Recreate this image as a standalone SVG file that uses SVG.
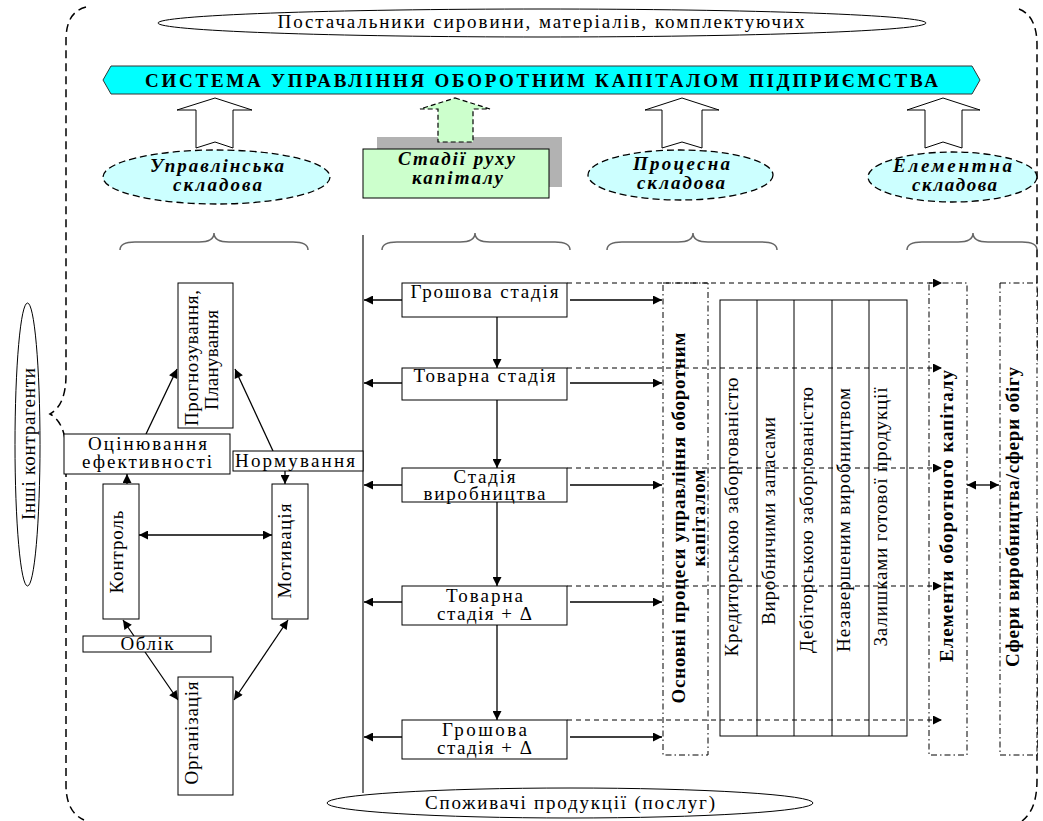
<svg xmlns="http://www.w3.org/2000/svg" width="1043" height="821" viewBox="0 0 1043 821" font-family="'Liberation Serif', 'Times New Roman', serif">
<defs>
<style>
.t{font-family:"Liberation Serif","Times New Roman",serif;font-size:19px;fill:#000}
.m{text-anchor:middle}
.b{font-weight:bold}
.bi{font-weight:bold;font-style:italic}
.box{fill:#fff;stroke:#000;stroke-width:1}
.ln{stroke:#000;stroke-width:1.3;fill:none}
.dsh{stroke:#000;stroke-width:1;stroke-dasharray:5 4;fill:none}
.dd{fill:#fff;stroke:#000;stroke-width:1;stroke-dasharray:6 3 1.5 3}
.brace{fill:none;stroke:#666;stroke-width:1.5}
.bigarrow{fill:#fff;stroke:#000;stroke-width:1}
.ell{fill:#CCFFFF;stroke:#000;stroke-width:1.3;stroke-dasharray:7 4}
</style>
<marker id="ah" viewBox="0 0 10 10" refX="10" refY="5" markerWidth="11" markerHeight="9" markerUnits="userSpaceOnUse" orient="auto-start-reverse"><path d="M0,0 L10,5 L0,10 Z" fill="#000"/></marker>
</defs>

<g id="boundary" fill="none" stroke="#000" stroke-width="1.5" stroke-dasharray="8 5">
<path d="M86 7 Q66 12 66 40 L66 375 Q66 405 50 414 Q66 423 66 453 L66 785 Q66 812 84 820"/>
<path d="M1019 9 Q1037 16 1037 45 L1037 350 C1037 395 1022 410 1021 440 C1022 470 1037 485 1037 530 L1037 780 Q1037 810 1022 821"/>
</g>

<g id="suppliers">
<ellipse cx="542" cy="23" rx="384" ry="14" fill="#fff" stroke="#000" stroke-width="1"/>
<text class="t m" x="541" y="28" font-size="18" textLength="527" lengthAdjust="spacing">Постачальники сировини, матеріалів, комплектуючих</text>
</g>

<g id="banner">
<polygon points="103,80 111,66 972,66 980,80 972,94 111,94" fill="#00FFFF" stroke="#333" stroke-width="1"/>
<text class="t m b" x="541.5" y="87" font-size="21" textLength="793" lengthAdjust="spacing">СИСТЕМА УПРАВЛІННЯ ОБОРОТНИМ КАПІТАЛОМ ПІДПРИЄМСТВА</text>
</g>

<g id="bigarrows">
<polygon class="bigarrow" points="215,98 252,110 233,110 233,148 215,142 196,148 196,110 177,110"/>
<polygon class="bigarrow" points="682,98 719,110 702,110 702,148 682,142 662,148 662,110 645,110"/>
<polygon class="bigarrow" points="943,98 980,110 962,110 962,148 943,142 925,148 925,110 907,110"/>
</g>

<g id="stages-header">
<rect x="377" y="137" width="185" height="50" fill="#B2B2B2"/>
<polygon points="455,98 490,109 473,109 473,142 438,142 438,109 420,109" fill="#CCFFCC" stroke="#000" stroke-width="1.2" stroke-dasharray="5 3"/>
<rect x="363" y="149" width="186" height="49" fill="#CCFFCC" stroke="#000" stroke-width="1"/>
<text class="t m bi" x="456.5" y="165" font-size="18" textLength="117" lengthAdjust="spacing">Стадії руху</text>
<text class="t m bi" x="457.5" y="184" font-size="18" textLength="91" lengthAdjust="spacing">капіталу</text>
</g>

<g id="mgmt-component">
<ellipse class="ell" cx="216.5" cy="177" rx="113.5" ry="27"/>
<text class="t m bi" x="217" y="172" font-size="18" textLength="134" lengthAdjust="spacing">Управлінська</text>
<text class="t m bi" x="217.5" y="191" font-size="18" textLength="89" lengthAdjust="spacing">складова</text>
</g>

<g id="process-component">
<ellipse class="ell" cx="680.5" cy="175" rx="92.5" ry="25"/>
<text class="t m bi" x="681.5" y="170" font-size="18" textLength="97" lengthAdjust="spacing">Процесна</text>
<text class="t m bi" x="681" y="189" font-size="18" textLength="88" lengthAdjust="spacing">складова</text>
</g>

<g id="element-component">
<ellipse class="ell" cx="952.5" cy="177" rx="84.5" ry="25"/>
<text class="t m bi" x="952.5" y="172" font-size="18" textLength="119" lengthAdjust="spacing">Елементна</text>
<text class="t m bi" x="954.5" y="191" font-size="18" textLength="85" lengthAdjust="spacing">складова</text>
</g>

<g id="braces">
<path class="brace" d="M120 250 Q120 242 135 242 L199 242 Q214 242 214 233 Q214 242 229 242 L293 242 Q308 242 308 250"/>
<path class="brace" d="M382 250 Q382 242 397 242 L460 242 Q475 242 475 233 Q475 242 490 242 L555 242 Q570 242 570 250"/>
<path class="brace" d="M607 250 Q607 242 622 242 L678 242 Q693 242 693 233 Q693 242 708 242 L762 242 Q777 242 777 250"/>
<path class="brace" d="M907 250 Q907 242 922 242 L958 242 Q973 242 973 233 Q973 242 988 242 L1022 242 Q1037 242 1037 250"/>
</g>

<g id="others">
<ellipse cx="27.5" cy="444.5" rx="12.5" ry="141.5" fill="#fff" stroke="#000" stroke-width="1"/>
<text class="t m" transform="translate(35,444) rotate(-90)" textLength="152" lengthAdjust="spacing">Інші контрагенти</text>
</g>

<g id="consumers">
<ellipse cx="570" cy="803" rx="243" ry="15" fill="#fff" stroke="#000" stroke-width="1"/>
<text class="t m" x="570" y="809" textLength="290" lengthAdjust="spacing">Споживачі продукції (послуг)</text>
</g>

<g id="connectors">
<line x1="363" y1="235" x2="363" y2="793" stroke="#444" stroke-width="1.5"/>
<line class="ln" x1="146" y1="434" x2="177" y2="369" marker-end="url(#ah)"/>
<line class="ln" x1="273" y1="451" x2="235" y2="369" marker-end="url(#ah)"/>
<line class="ln" x1="127" y1="484" x2="127" y2="474" marker-end="url(#ah)"/>
<line class="ln" x1="285" y1="471" x2="285" y2="484" marker-end="url(#ah)"/>
<line class="ln" x1="139" y1="535" x2="272" y2="535" marker-start="url(#ah)" marker-end="url(#ah)"/>
<line class="ln" x1="123" y1="620" x2="134" y2="636" marker-start="url(#ah)"/>
<line class="ln" x1="145" y1="652" x2="178" y2="700" marker-end="url(#ah)"/>
<line class="ln" x1="288" y1="620" x2="234" y2="700" marker-start="url(#ah)" marker-end="url(#ah)"/>
<line class="ln" x1="497" y1="317" x2="497" y2="368" marker-end="url(#ah)"/>
<line class="ln" x1="497" y1="400" x2="497" y2="468" marker-end="url(#ah)"/>
<line class="ln" x1="497" y1="502" x2="497" y2="586" marker-end="url(#ah)"/>
<line class="ln" x1="497" y1="625" x2="497" y2="720" marker-end="url(#ah)"/>
<line class="ln" x1="402" y1="300" x2="364" y2="300" marker-end="url(#ah)"/>
<line class="ln" x1="402" y1="383" x2="364" y2="383" marker-end="url(#ah)"/>
<line class="ln" x1="402" y1="485" x2="364" y2="485" marker-end="url(#ah)"/>
<line class="ln" x1="402" y1="602" x2="364" y2="602" marker-end="url(#ah)"/>
<line class="ln" x1="402" y1="737" x2="364" y2="737" marker-end="url(#ah)"/>
<line class="ln" x1="570" y1="300" x2="662" y2="300" marker-end="url(#ah)"/>
<line class="ln" x1="570" y1="383" x2="662" y2="383" marker-end="url(#ah)"/>
<line class="ln" x1="570" y1="485" x2="662" y2="485" marker-end="url(#ah)"/>
<line class="ln" x1="570" y1="602" x2="662" y2="602" marker-end="url(#ah)"/>
<line class="ln" x1="570" y1="737" x2="662" y2="737" marker-end="url(#ah)"/>
<line class="ln" x1="967" y1="485" x2="999" y2="485" marker-start="url(#ah)" marker-end="url(#ah)"/>
</g>

<g id="forecast"><rect class="box" x="178" y="283" width="55" height="145"/>
<text class="t m" transform="translate(198,358) rotate(-90)" textLength="136" lengthAdjust="spacing">Прогнозування,</text>
<text class="t m" transform="translate(218,360) rotate(-90)" textLength="100" lengthAdjust="spacing">Планування</text></g>
<g id="evaluation"><rect class="box" x="64" y="434" width="166" height="40"/>
<text class="t m" x="147.5" y="450" font-size="17" textLength="119" lengthAdjust="spacing">Оцінювання</text>
<text class="t m" x="147" y="468" font-size="17" textLength="130" lengthAdjust="spacing">ефективності</text></g>
<g id="norming"><rect class="box" x="233" y="451" width="130" height="20"/>
<text class="t m" x="295" y="467" textLength="120" lengthAdjust="spacing">Нормування</text></g>
<g id="control"><rect class="box" x="103" y="484" width="36" height="135"/>
<text class="t m" transform="translate(123,552) rotate(-90)" textLength="83" lengthAdjust="spacing">Контроль</text></g>
<g id="motivation"><rect class="box" x="272" y="484" width="36" height="135"/>
<text class="t m" transform="translate(291,551) rotate(-90)" textLength="95" lengthAdjust="spacing">Мотивація</text></g>
<g id="accounting"><rect class="box" x="83" y="636" width="128" height="16"/>
<text class="t m" x="147" y="650" textLength="53" lengthAdjust="spacing">Облік</text></g>
<g id="organization"><rect class="box" x="178" y="677" width="55" height="118"/>
<text class="t m" transform="translate(198,733) rotate(-90)" textLength="103" lengthAdjust="spacing">Організація</text></g>

<g id="stage1"><rect class="box" x="402" y="283" width="165" height="34"/>
<text class="t m" x="484.5" y="298" textLength="148" lengthAdjust="spacing">Грошова стадія</text></g>
<g id="stage2"><rect class="box" x="402" y="368" width="165" height="32"/>
<text class="t m" x="484.5" y="382" textLength="142" lengthAdjust="spacing">Товарна стадія</text></g>
<g id="stage3"><rect class="box" x="402" y="468" width="165" height="34"/>
<text class="t m" x="484.5" y="483" font-size="17" textLength="62" lengthAdjust="spacing">Стадія</text>
<text class="t m" x="484.5" y="500" font-size="17" textLength="122" lengthAdjust="spacing">виробництва</text></g>
<g id="stage4"><rect class="box" x="402" y="586" width="165" height="39"/>
<text class="t m" x="484.5" y="602" font-size="17" textLength="77" lengthAdjust="spacing">Товарна</text>
<text class="t m" x="484.5" y="620" font-size="17" textLength="95" lengthAdjust="spacing">стадія + Δ</text></g>
<g id="stage5"><rect class="box" x="402" y="720" width="165" height="39"/>
<text class="t m" x="484.5" y="736" font-size="17" textLength="85" lengthAdjust="spacing">Грошова</text>
<text class="t m" x="484.5" y="754" font-size="17" textLength="95" lengthAdjust="spacing">стадія + Δ</text></g>

<g id="processes"><rect class="dd" x="663" y="283" width="45" height="472"/>
<text class="t m b" transform="translate(685,518) rotate(-90)" textLength="371" lengthAdjust="spacing">Основні процеси управління оборотним</text>
<text class="t m b" transform="translate(705,518) rotate(-90)" textLength="97" lengthAdjust="spacing">капіталом</text></g>

<g id="table">
<rect x="720" y="300" width="187" height="436" fill="#fff" stroke="#000" stroke-width="1"/>
<line x1="757" y1="300" x2="757" y2="736" stroke="#000"/>
<line x1="794" y1="300" x2="794" y2="736" stroke="#000"/>
<line x1="832" y1="300" x2="832" y2="736" stroke="#000"/>
<line x1="869" y1="300" x2="869" y2="736" stroke="#000"/>
<text class="t m" transform="translate(738,517) rotate(-90)" textLength="279" lengthAdjust="spacing">Кредиторською заборгованістю</text>
<text class="t m" transform="translate(775,521) rotate(-90)" textLength="208" lengthAdjust="spacing">Виробничими запасами</text>
<text class="t m" transform="translate(813,520) rotate(-90)" textLength="266" lengthAdjust="spacing">Дебіторською заборгованістю</text>
<text class="t m" transform="translate(850,520) rotate(-90)" textLength="264" lengthAdjust="spacing">Незавершеним виробництвом</text>
<text class="t m" transform="translate(887,517) rotate(-90)" textLength="259" lengthAdjust="spacing">Залишками готової продукції</text>
</g>

<g id="elements"><rect class="dd" x="929" y="283" width="38" height="472"/>
<text class="t m b" transform="translate(953,516) rotate(-90)" textLength="292" lengthAdjust="spacing">Елементи оборотного капіталу</text></g>

<g id="spheres"><rect class="dd" x="1000" y="283" width="37" height="472"/>
<text class="t m b" transform="translate(1019,517) rotate(-90)" textLength="300" lengthAdjust="spacing">Сфери виробництва/сфери обігу</text></g>

<g id="dashed-links">
<line class="dsh" x1="567" y1="283" x2="942" y2="283" marker-end="url(#ah)"/>
<line class="dsh" x1="567" y1="368" x2="942" y2="368" marker-end="url(#ah)"/>
<line class="dsh" x1="567" y1="468" x2="942" y2="468" marker-end="url(#ah)"/>
<line class="dsh" x1="567" y1="586" x2="942" y2="586" marker-end="url(#ah)"/>
<line class="dsh" x1="567" y1="720" x2="942" y2="720" marker-end="url(#ah)"/>
</g>
</svg>
